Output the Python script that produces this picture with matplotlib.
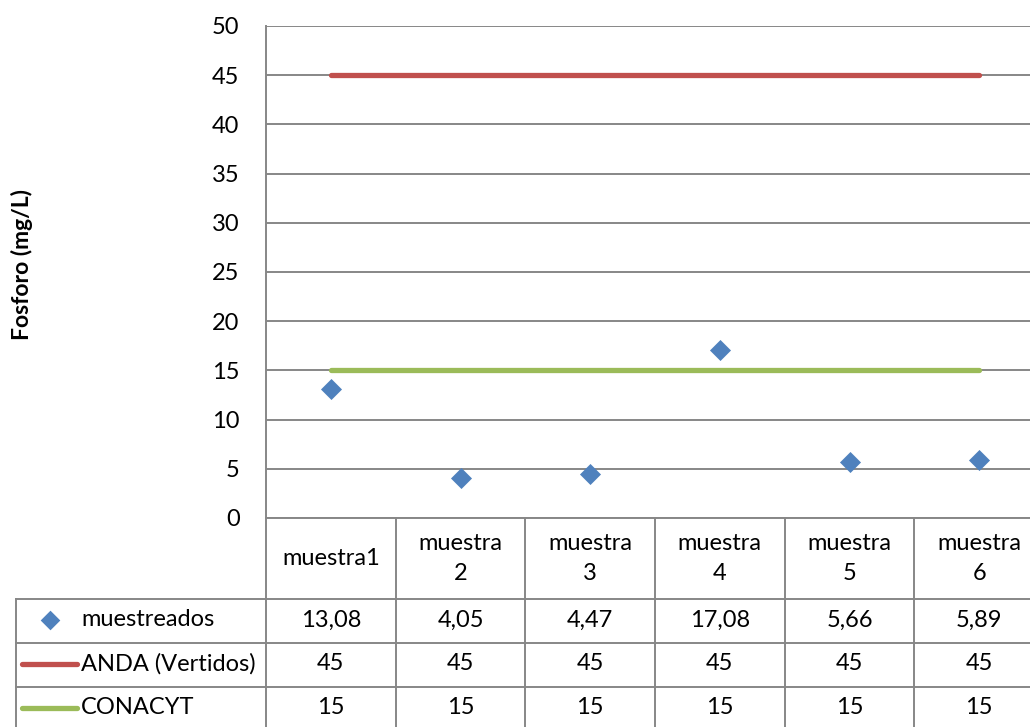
import matplotlib
matplotlib.use("Agg")
import matplotlib.pyplot as plt

plt.rcParams['font.family'] = ['Lato', 'DejaVu Sans']

# Phosphorus readings per sample and the two reference limits
categorias = ["muestra1", "muestra\n2", "muestra\n3", "muestra\n4", "muestra\n5", "muestra\n6"]
muestreados = [13.08, 4.05, 4.47, 17.08, 5.66, 5.89]
anda = [45, 45, 45, 45, 45, 45]
conacyt = [15, 15, 15, 15, 15, 15]
y_ticks = [0, 5, 10, 15, 20, 25, 30, 35, 40, 45, 50]

azul = "#4F81BD"
rojo = "#C0504D"
verde = "#9BBB59"
gris = "#878787"
fs = 17

W, H = 1030, 727
fig = plt.figure(figsize=(W / 100, H / 100), dpi=100)

# plot area in pixels
x0, x1 = 266, 1044
y_top, y_zero = 26, 518
ax = fig.add_axes([x0 / W, (H - y_zero) / H, (x1 - x0) / W, (y_zero - y_top) / H])
xs = list(range(len(categorias)))

ax.plot(xs, anda, color=rojo, lw=3.8, solid_capstyle='round', zorder=3)
ax.plot(xs, conacyt, color=verde, lw=3.8, solid_capstyle='round', zorder=3)
ax.scatter(xs, muestreados, marker='D', s=115, color=azul, zorder=4, linewidths=0)

ax.set_xlim(-0.5, len(categorias) - 0.5)
ax.set_ylim(0, 50)
ax.set_yticks(y_ticks)
ax.set_yticklabels([str(v) for v in y_ticks], fontsize=fs)
ax.set_xticks([])
ax.tick_params(axis='y', length=0, pad=19)
ax.grid(axis='y', color=gris, lw=1.4)
ax.set_axisbelow(True)
for side in ['top', 'right', 'bottom']:
    ax.spines[side].set_visible(False)
ax.spines['left'].set_color(gris)
ax.spines['left'].set_linewidth(1.4)

# axis title
fig.text(22 / W, 1 - 265 / H, "Fosforo (mg/L)", rotation=90, ha='center', va='center',
         fontsize=16.5, fontweight='bold')

# data table below the plot, sharing the category axis
tab = fig.add_axes([x0 / W, 0, (x1 - x0) / W, (H - y_zero) / H], sharex=ax)
tab.set_ylim(H, y_zero)
tab.axis('off')

px = (x1 - x0) / len(categorias)  # pixels per category
left_x = -0.5 - (x0 - 16) / px
rows = [599, 643, 687, 731]
kw = dict(color=gris, lw=1.4, clip_on=False)

tab.plot([-0.5, 5.5], [y_zero, y_zero], **kw)
for r in rows[:-1]:
    tab.plot([left_x, 5.5], [r, r], **kw)
tab.plot([left_x, left_x], [rows[0], H + 5], **kw)
for i in range(len(categorias) + 1):
    tab.plot([i - 0.5, i - 0.5], [y_zero, H + 5], **kw)

for i, c in enumerate(categorias):
    tab.text(i, (y_zero + rows[0]) / 2, c, ha='center', va='center',
             fontsize=fs, linespacing=1.55, clip_on=False)

series = [("muestreados", muestreados), ("ANDA (Vertidos)", anda), ("CONACYT", conacyt)]
for k, (nombre, vals) in enumerate(series):
    yc = (rows[k] + rows[k + 1]) / 2 - 1
    for i, v in enumerate(vals):
        txt = f"{v:.2f}".replace(".", ",") if isinstance(v, float) else str(v)
        tab.text(i, yc, txt, ha='center', va='center', fontsize=fs, clip_on=False)
    tab.text(-0.5 - (x0 - 81) / px, yc, nombre, ha='left', va='center',
             fontsize=fs, clip_on=False)

# legend keys inside the table
key_l = -0.5 - (x0 - 22) / px
key_r = -0.5 - (x0 - 77) / px
tab.scatter([(key_l + key_r) / 2], [(rows[0] + rows[1]) / 2 - 1], marker='D', s=100,
            color=azul, linewidths=0, clip_on=False)
tab.plot([key_l, key_r], [(rows[1] + rows[2]) / 2 - 1] * 2, color=rojo, lw=3.8,
         solid_capstyle='round', clip_on=False)
tab.plot([key_l, key_r], [(rows[2] + rows[3]) / 2 - 1] * 2, color=verde, lw=3.8,
         solid_capstyle='round', clip_on=False)

fig.savefig("out.png", dpi=100)
